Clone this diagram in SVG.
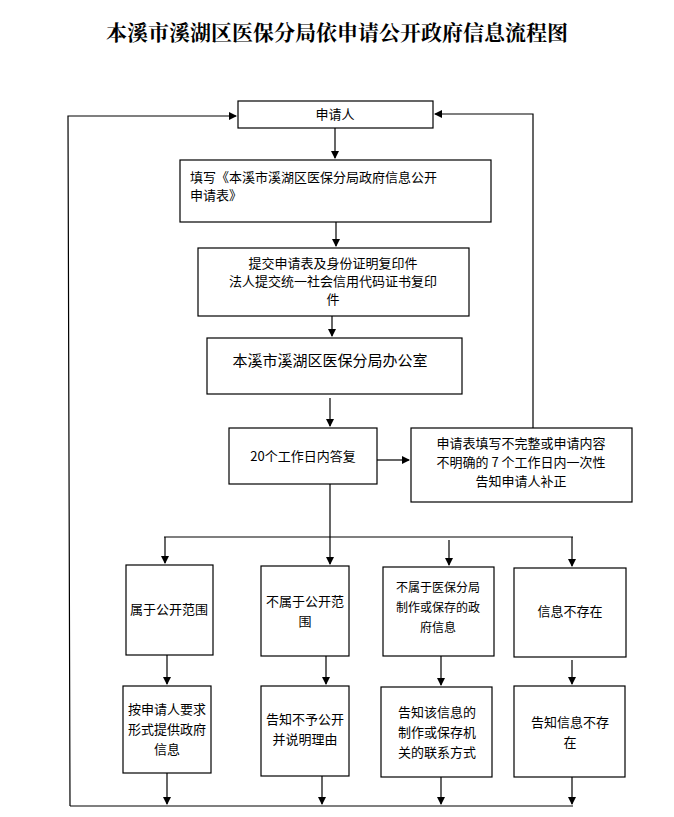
<svg xmlns="http://www.w3.org/2000/svg" width="674" height="817" viewBox="0 0 674 817">
<defs><marker id="a" markerWidth="8" markerHeight="8" refX="7" refY="4" orient="auto" markerUnits="userSpaceOnUse"><path d="M0,0 L8,4 L0,8 z" fill="#000"/></marker></defs>
<style>
rect{fill:#fff;stroke:#000;stroke-width:1.2}
text{font-family:"Noto Sans CJK SC","Noto Sans",sans-serif;font-size:13px;fill:#000;text-anchor:middle}
.c line,.c polyline{stroke:#000;stroke-width:1.2;fill:none}
.t{font-family:"Noto Serif CJK SC","Noto Sans CJK SC",serif;font-size:21px;font-weight:bold}
</style>
<rect x="0" y="0" width="674" height="817" style="stroke:none"/>
<text class="t" x="337" y="40">本溪市溪湖区医保分局依申请公开政府信息流程图</text>
<g class="c">
<line x1="335" y1="128" x2="335" y2="158" marker-end="url(#a)"/>
<line x1="336" y1="222" x2="336" y2="246" marker-end="url(#a)"/>
<line x1="332" y1="316" x2="332" y2="336" marker-end="url(#a)"/>
<line x1="330" y1="398" x2="330" y2="426" marker-end="url(#a)"/>
<line x1="377" y1="460" x2="409" y2="460" marker-end="url(#a)"/>
<polyline points="533,428 533,114 435,114" marker-end="url(#a)"/>
<polyline points="70,806 68,116 236,116" marker-end="url(#a)"/>
<line x1="330" y1="484" x2="330" y2="537"/>
<line x1="164" y1="537" x2="573" y2="537"/>
<line x1="165" y1="537" x2="165" y2="563" marker-end="url(#a)"/>
<line x1="330" y1="537" x2="330" y2="564" marker-end="url(#a)"/>
<line x1="449" y1="540" x2="449" y2="565" marker-end="url(#a)"/>
<line x1="572" y1="537" x2="572" y2="566" marker-end="url(#a)"/>
<line x1="167" y1="655" x2="167" y2="684" marker-end="url(#a)"/>
<line x1="326" y1="656" x2="326" y2="684" marker-end="url(#a)"/>
<line x1="441" y1="656" x2="441" y2="685" marker-end="url(#a)"/>
<line x1="572" y1="660" x2="572" y2="684" marker-end="url(#a)"/>
<line x1="167" y1="773" x2="167" y2="804" marker-end="url(#a)"/>
<line x1="322" y1="776" x2="322" y2="804" marker-end="url(#a)"/>
<line x1="441" y1="777" x2="441" y2="804" marker-end="url(#a)"/>
<line x1="572" y1="777" x2="572" y2="804" marker-end="url(#a)"/>
<line x1="70" y1="806" x2="573" y2="806"/>
</g>
<g id="n1"><rect x="238" y="101" width="195" height="27"/><text x="335" y="119">申请人</text></g>
<g id="n2"><rect x="180" y="160" width="311" height="62"/><text x="190" y="182" style="text-anchor:start">填写《本溪市溪湖区医保分局政府信息公开</text><text x="190" y="200" style="text-anchor:start">申请表》</text></g>
<g id="n3"><rect x="198" y="248" width="271" height="68"/><text x="333" y="268">提交申请表及身份证明复印件</text><text x="333" y="286">法人提交统一社会信用代码证书复印</text><text x="333" y="304">件</text></g>
<g id="n4"><rect x="207" y="338" width="255" height="56"/><text x="330" y="366" style="font-size:15px">本溪市溪湖区医保分局办公室</text></g>
<g id="n5"><rect x="229" y="428" width="148" height="56"/><text x="303" y="461">20个工作日内答复</text></g>
<g id="n6"><rect x="411" y="428" width="221" height="74"/><text x="521" y="448">申请表填写不完整或申请内容</text><text x="521" y="467">不明确的 7 个工作日内一次性</text><text x="521" y="486">告知申请人补正</text></g>
<g id="n7"><rect x="126" y="565" width="87" height="90"/><text x="169" y="614">属于公开范围</text></g>
<g id="n8"><rect x="261" y="566" width="88" height="90"/><text x="305" y="606">不属于公开范</text><text x="305" y="626">围</text></g>
<g id="n9"><rect x="383" y="567" width="111" height="89"/><text x="438" y="592" style="font-size:12px">不属于医保分局</text><text x="438" y="612" style="font-size:12px">制作或保存的政</text><text x="438" y="632" style="font-size:12px">府信息</text></g>
<g id="n10"><rect x="514" y="568" width="112" height="89"/><text x="570" y="616">信息不存在</text></g>
<g id="n11"><rect x="123" y="686" width="88" height="87"/><text x="167" y="714">按申请人要求</text><text x="167" y="734">形式提供政府</text><text x="167" y="754">信息</text></g>
<g id="n12"><rect x="261" y="686" width="88" height="90"/><text x="305" y="724">告知不予公开</text><text x="305" y="744">并说明理由</text></g>
<g id="n13"><rect x="381" y="687" width="111" height="90"/><text x="437" y="717">告知该信息的</text><text x="437" y="737">制作或保存机</text><text x="437" y="757">关的联系方式</text></g>
<g id="n14"><rect x="514" y="686" width="111" height="91"/><text x="570" y="727">告知信息不存</text><text x="570" y="747">在</text></g>
</svg>
